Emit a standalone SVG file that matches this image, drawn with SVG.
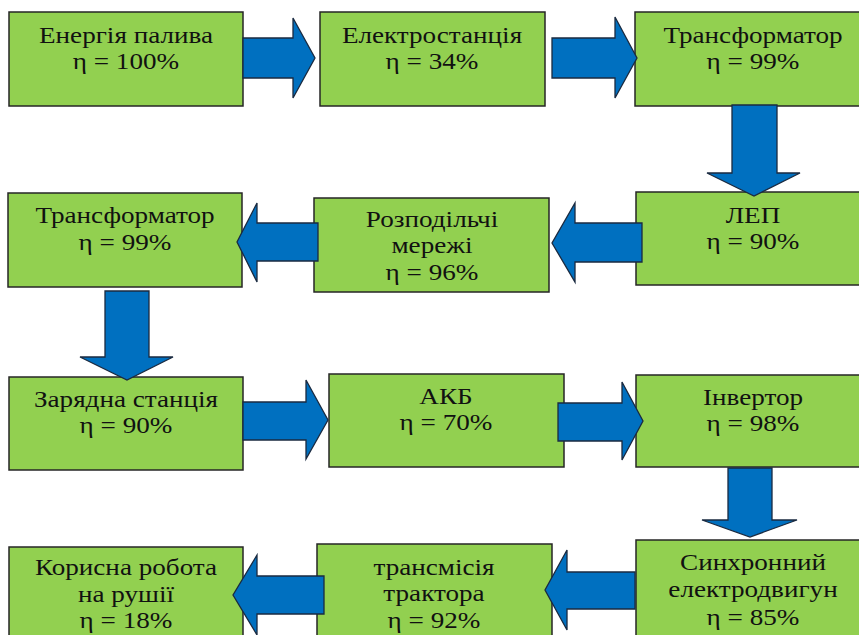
<svg xmlns="http://www.w3.org/2000/svg" width="859" height="635" viewBox="0 0 859 635">
<style>
.box{fill:#92D050;stroke:#262626;stroke-width:1.5}
.arr{fill:#0070C0;stroke:#1a2a40;stroke-width:1.3;stroke-linejoin:miter}
.t{font-family:'Liberation Serif','DejaVu Serif',serif;font-size:23px;fill:#111;text-anchor:middle}
</style>
<rect width="859" height="635" fill="#fff"/>
<g id="n1"><rect class="box" x="9" y="12" width="234" height="94"/><g class="t" transform="translate(126,0) scale(1.18,1)"><text y="43">Енергія палива</text><text y="69">η = 100%</text></g></g>
<g id="n2"><rect class="box" x="320" y="12" width="225" height="94"/><g class="t" transform="translate(432,0) scale(1.18,1)"><text y="43">Електростанція</text><text y="69">η = 34%</text></g></g>
<g id="n3"><rect class="box" x="635" y="12" width="230" height="94"/><g class="t" transform="translate(753,0) scale(1.18,1)"><text y="43">Трансформатор</text><text y="69">η = 99%</text></g></g>
<g id="n4"><rect class="box" x="636" y="192" width="230" height="93"/><g class="t" transform="translate(753,0) scale(1.18,1)"><text y="223">ЛЕП</text><text y="249">η = 90%</text></g></g>
<g id="n5"><rect class="box" x="314" y="198" width="235" height="94"/><g class="t" transform="translate(432,0) scale(1.18,1)"><text y="227">Розподільчі</text><text y="253">мережі</text><text y="280">η = 96%</text></g></g>
<g id="n6"><rect class="box" x="8" y="193" width="234" height="94"/><g class="t" transform="translate(125,0) scale(1.18,1)"><text y="223">Трансформатор</text><text y="250">η = 99%</text></g></g>
<g id="n7"><rect class="box" x="9" y="377" width="234" height="93"/><g class="t" transform="translate(126,0) scale(1.18,1)"><text y="407">Зарядна станція</text><text y="433">η = 90%</text></g></g>
<g id="n8"><rect class="box" x="329" y="374" width="235" height="93"/><g class="t" transform="translate(446,0) scale(1.18,1)"><text y="404">АКБ</text><text y="430">η = 70%</text></g></g>
<g id="n9"><rect class="box" x="636" y="375" width="230" height="92"/><g class="t" transform="translate(753,0) scale(1.18,1)"><text y="405">Інвертор</text><text y="431">η = 98%</text></g></g>
<g id="n10"><rect class="box" x="636" y="540" width="230" height="100"/><g class="t" transform="translate(753,0) scale(1.18,1)"><text y="570">Синхронний</text><text y="597">електродвигун</text><text y="625">η = 85%</text></g></g>
<g id="n11"><rect class="box" x="317" y="544" width="235" height="100"/><g class="t" transform="translate(434,0) scale(1.18,1)"><text y="575">трансмісія</text><text y="601">трактора</text><text y="628">η = 92%</text></g></g>
<g id="n12"><rect class="box" x="9" y="547" width="234" height="100"/><g class="t" transform="translate(126,0) scale(1.18,1)"><text y="575">Корисна робота</text><text y="602">на рушії</text><text y="628">η = 18%</text></g></g>
<g id="connectors">
<polygon class="arr" points="243,38 293,38 293,18 315,58 293,98 293,78 243,78"/>
<polygon class="arr" points="552,38 615,38 615,17 637,58 615,98 615,78 552,78"/>
<polygon class="arr" points="732,105 777,105 777,173 800,173 754,196 707,173 732,173"/>
<polygon class="arr" points="642,223 575,223 575,203 552,243 575,282 575,262 642,262"/>
<polygon class="arr" points="318,223 257,223 257,203 237,242 257,282 257,261 318,261"/>
<polygon class="arr" points="105,291 149,291 149,357 173,357 127,380 80,357 105,357"/>
<polygon class="arr" points="243,402 306,402 306,380 328,420 306,459 306,440 243,440"/>
<polygon class="arr" points="558,403 622,403 622,382 643,421 622,460 622,441 558,441"/>
<polygon class="arr" points="728,468 772,468 772,520 797,520 750,537 702,520 728,520"/>
<polygon class="arr" points="635,572 567,572 567,550 545,590 567,630 567,609 635,609"/>
<polygon class="arr" points="324,576 257,576 257,555 233,595 257,635 257,614 324,614"/>
</g>
</svg>
